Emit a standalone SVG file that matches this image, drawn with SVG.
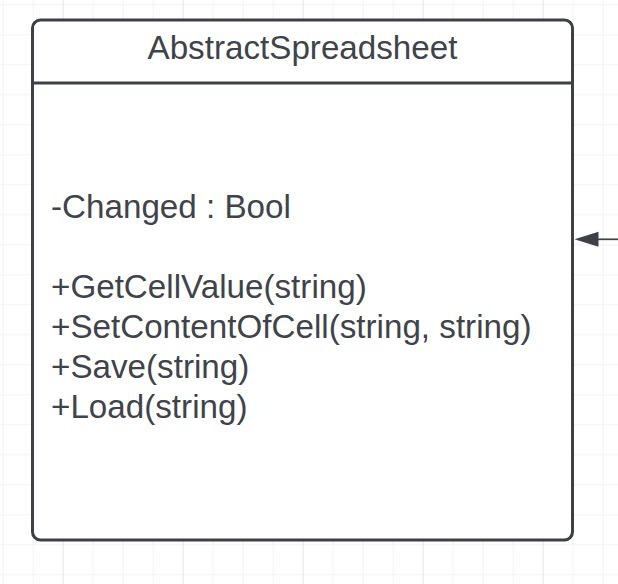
<svg xmlns="http://www.w3.org/2000/svg" width="618" height="584" viewBox="0 0 618 584">
  <defs>
    <pattern id="grid" x="2.7" y="4.3" width="30" height="30" patternUnits="userSpaceOnUse">
      <path d="M0 0H30M0 0V30" fill="none" stroke="#e8e8e8" stroke-width="1"/>
    </pattern>
    <pattern id="grid4" x="62.7" y="4.3" width="120" height="120" patternUnits="userSpaceOnUse">
      <path d="M0 0V120" fill="none" stroke="#dcdcdc" stroke-width="1"/>
    </pattern>
  </defs>
  <style>
    .box { fill: #ffffff; stroke: #3d4047; stroke-width: 3; }
    .div { stroke: #3d4047; stroke-width: 3; }
    .t { font-family: "Liberation Sans", Arial, sans-serif; font-size: 33.2px; fill: #3f434a; }
    .conn { stroke: #3d4047; stroke-width: 1.7; fill: none; }
    .head { fill: #3d4047; }
  </style>
  <rect width="618" height="584" fill="#ffffff"/>
  <rect width="618" height="584" fill="url(#grid)"/>
  <rect width="618" height="584" fill="url(#grid4)"/>

  <g id="AbstractSpreadsheet">
    <rect class="box" x="32.5" y="20" width="540" height="520" rx="8" ry="8"/>
    <line class="div" x1="32.5" y1="83" x2="572.5" y2="83"/>
    <text class="t" x="302.5" y="59" text-anchor="middle">AbstractSpreadsheet</text>
    <text class="t" x="51" y="218">-Changed : Bool</text>
    <text class="t" x="51" y="298">+GetCellValue(string)</text>
    <text class="t" x="51" y="338">+SetContentOfCell(string, string)</text>
    <text class="t" x="51" y="378">+Save(string)</text>
    <text class="t" x="51" y="418">+Load(string)</text>
  </g>

  <g id="connectors">
    <path class="conn" d="M618 239.3H598"/>
    <path class="head" d="M574.5 239.3L598.5 231.8L598.5 246.8Z"/>
  </g>
</svg>
